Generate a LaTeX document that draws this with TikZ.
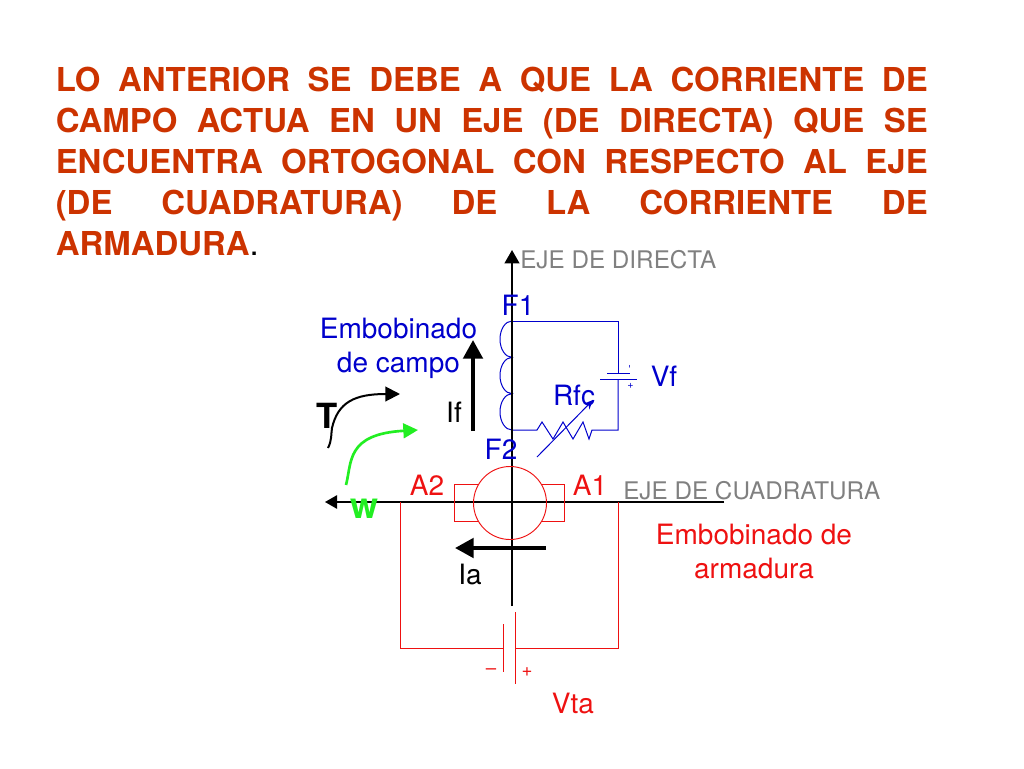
\documentclass[tikz,border=0pt]{standalone}
\usepackage{fontspec}
\setmainfont{TeX Gyre Heros}
\usepackage{xcolor}
\usetikzlibrary{arrows.meta}
\definecolor{titulo}{HTML}{CC3300}
\definecolor{campo}{HTML}{0000CC}
\definecolor{armadura}{HTML}{EE1111}
\definecolor{ejes}{HTML}{808080}
\definecolor{velocidad}{HTML}{22EE22}
\tikzset{
  etiqueta/.style={inner sep=0pt,font=\fontsize{21}{25}\selectfont},
  eje/.style={inner sep=0pt,text=ejes,font=\fontsize{18.2}{20}\selectfont},
  lineacampo/.style={color=campo,line width=0.75pt},
  lineaarm/.style={color=armadura,line width=0.7pt},
  flecha/.style={line width=3pt,-{Triangle[length=14pt,width=14.5pt]}},
}
\begin{document}
\begin{tikzpicture}[x=0.75pt,y=-0.75pt]
\useasboundingbox (0,0) rectangle (1024,768);
% titulo
\node[anchor=north west,inner sep=0pt,text width=654pt,align=justify,text=titulo,
  font=\fontsize{24.7}{30.75}\selectfont\bfseries] (titulo) at (55.5,67)
  {LO ANTERIOR SE DEBE A QUE LA CORRIENTE DE\linebreak
   CAMPO ACTUA EN UN EJE (DE DIRECTA) QUE SE\linebreak
   ENCUENTRA ORTOGONAL CON RESPECTO AL EJE\linebreak
   (DE CUADRATURA) DE LA CORRIENTE DE\linebreak
   ARMADURA{\color{black}\mdseries.}};
% ejes
\coordinate (ejeAbajo) at (512,606);
\coordinate (ejeArriba) at (512,250);
\coordinate (ejeDer) at (724,502);
\coordinate (ejeIzq) at (325,502);
\node[eje,anchor=west] (ejeD) at (520,260) {EJE DE DIRECTA};
\node[eje,anchor=west] (ejeC) at (623,491) {EJE DE CUADRATURA};
% embobinado de campo
\coordinate (f1) at (512,321);
\coordinate (f2) at (512,430);
\coordinate (esqA) at (618,321);
\coordinate (esqB) at (618,430);
\coordinate (batA) at (618,373);
\coordinate (batB) at (618,379);
\coordinate (resA) at (537,430);
\coordinate (resB) at (592,430);
\draw[lineacampo] (f1) arc (-90:-270:12 and 18.17) arc (-90:-270:12 and 18.17) arc (-90:-270:12 and 18.17);
\draw[lineacampo] (f1) -- (esqA) -- (batA);
\draw[lineacampo] (batB) -- (esqB) -- (resB)
  -- (589,439) -- (583,422) -- (573,439) -- (563,422) -- (553,439) -- (542,422) -- (resA)
  -- (f2);
\draw[lineacampo] (607,373) -- (630,373);
\draw[lineacampo] (600,379) -- (637,379);
\node[inner sep=0pt,text=campo,rotate=90,font=\fontsize{8}{8}\selectfont] (menos) at (631,367) {-};
\node[inner sep=0pt,text=campo,font=\fontsize{8}{8}\selectfont] (mas) at (630.5,385.5) {+};
\coordinate (varA) at (537,457);
\coordinate (varB) at (593,400);
\draw[lineacampo,-{Stealth[length=7pt,width=6pt]}] (varA) -- (varB);
\draw[line width=1.5pt,-{Triangle[length=10pt,width=11pt]}] (ejeAbajo) -- (ejeArriba);
\draw[line width=1.2pt,-{Triangle[length=9pt,width=10pt]}] (ejeDer) -- (ejeIzq);
\node[etiqueta,text=campo] (etF1) at (518,305) {F1};
\node[etiqueta,text=campo] (etF2) at (501,449) {F2};
\node[etiqueta,text=campo] (etRfc) at (574,395) {Rfc};
\node[etiqueta,text=campo] (etVf) at (664,376) {Vf};
\node[etiqueta,text=campo,align=center,font=\fontsize{21}{25.5}\selectfont] (etCampo) at (398.5,348) {Embobinado\\de campo};
% corrientes
\coordinate (ifA) at (473,431);
\coordinate (ifB) at (473,340);
\draw[flecha] (ifA) -- (ifB);
\node[etiqueta] (etIf) at (454,412) {If};
\coordinate (iaA) at (546,548);
\coordinate (iaB) at (455,548);
\draw[flecha] (iaA) -- (iaB);
\node[etiqueta] (etIa) at (470,574) {Ia};
% par y velocidad
\node[inner sep=0pt,font=\fontsize{26}{30}\selectfont\bfseries] (etT) at (327,416) {T};
\coordinate (parA) at (328,448);
\coordinate (parB) at (400,394);
\draw[line width=1.5pt,-{Triangle[length=11pt,width=11pt]}] (parA) .. controls (332,440) and (331,434) .. (332,428) .. controls (338,402) and (355,394) .. (parB);
\coordinate (velA) at (346,485);
\coordinate (velB) at (418,430);
\draw[velocidad,line width=2pt,-{Triangle[length=11pt,width=11pt]}] (velA) .. controls (352,462) and (346,434) .. (velB);
\node[inner sep=0pt,text=velocidad,font=\fontsize{27}{30}\selectfont\bfseries] (etW) at (364,509) {w};
% armadura
\node[circle,draw=armadura,line width=0.7pt,minimum size=54.75pt,inner sep=0pt] (rotor) at (510,503) {};
\coordinate (zapIa) at (479,484);
\coordinate (zapIb) at (454,484);
\coordinate (zapIc) at (454,521);
\coordinate (zapId) at (479,521);
\coordinate (zapDa) at (541,484);
\coordinate (zapDb) at (564,484);
\coordinate (zapDc) at (564,521);
\coordinate (zapDd) at (541,521);
\draw[lineaarm] (zapIa) -- (zapIb) -- (zapIc) -- (zapId);
\draw[lineaarm] (zapDa) -- (zapDb) -- (zapDc) -- (zapDd);
\coordinate (armIa) at (400,502);
\coordinate (armIb) at (400,648);
\coordinate (armDa) at (618.5,502);
\coordinate (armDb) at (618.5,648);
\coordinate (vtaA) at (503,648);
\coordinate (vtaB) at (515,648);
\draw[lineaarm] (armIa) -- (armIb) -- (vtaA);
\draw[lineaarm] (armDa) -- (armDb) -- (vtaB);
\draw[lineaarm] (503,624) -- (503,672);
\draw[lineaarm] (515,612) -- (515,684);
\node[inner sep=0pt,text=armadura,font=\fontsize{14}{16}\selectfont] (vtaMenos) at (491,672) {–};
\node[inner sep=0pt,text=armadura,font=\fontsize{14}{16}\selectfont] (vtaMas) at (527,672) {+};
\node[etiqueta,text=armadura] (etA2) at (427,485) {A2};
\node[etiqueta,text=armadura] (etA1) at (590,485) {A1};
\node[etiqueta,text=armadura] (etVta) at (573,703) {Vta};
\node[etiqueta,text=armadura,align=center,font=\fontsize{21}{25.5}\selectfont] (etArm) at (754,551) {Embobinado de\\armadura};
\end{tikzpicture}
\end{document}
